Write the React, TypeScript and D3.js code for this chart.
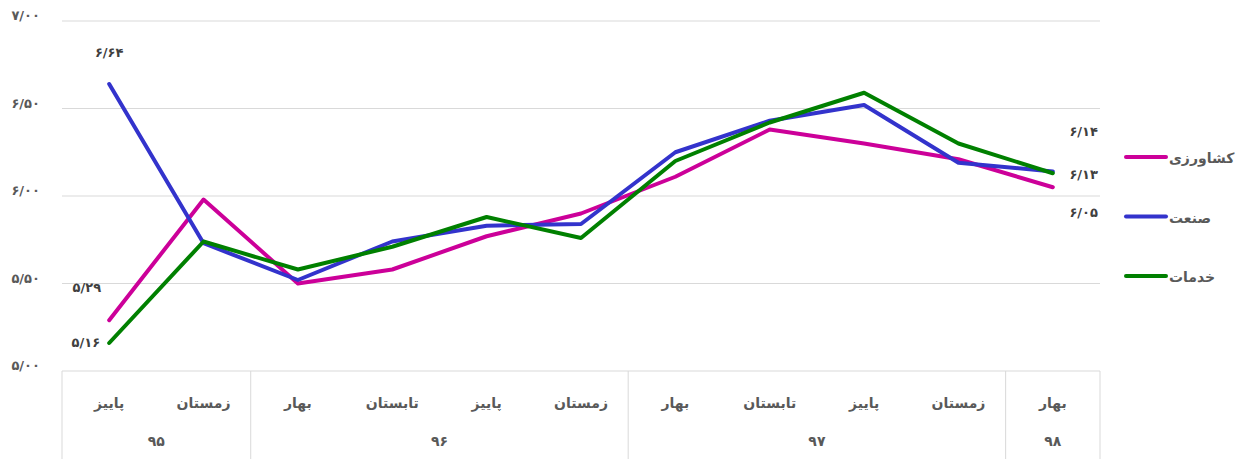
import React, { useEffect } from 'react';
import * as d3 from 'd3';

// seasons (quarters), left to right as in the chart
const seasons = ['پاییز', 'زمستان', 'بهار', 'تابستان', 'پاییز', 'زمستان', 'بهار', 'تابستان', 'پاییز', 'زمستان', 'بهار'];
const years = [
  { label: '۹۵', from: 0, to: 2 },
  { label: '۹۶', from: 2, to: 6 },
  { label: '۹۷', from: 6, to: 10 },
  { label: '۹۸', from: 10, to: 11 },
];

const agriculture = [5.29, 5.98, 5.5, 5.58, 5.77, 5.9, 6.11, 6.38, 6.3, 6.21, 6.05];
const industry = [6.64, 5.73, 5.52, 5.74, 5.83, 5.84, 6.25, 6.43, 6.52, 6.19, 6.14];
const services = [5.16, 5.74, 5.58, 5.71, 5.88, 5.76, 6.2, 6.42, 6.59, 6.3, 6.13];

const yTicks = [5, 5.5, 6, 6.5, 7];

const series = [
  { name: 'کشاورزی', values: agriculture, color: '#cc0099' },
  { name: 'صنعت', values: industry, color: '#3333cc' },
  { name: 'خدمات', values: services, color: '#008000' },
];

const faDigits = '۰۱۲۳۴۵۶۷۸۹';
const fa = (v: number) =>
  v.toFixed(2).replace('.', '/').replace(/[0-9]/g, (d) => faDigits[+d]);

const W = 1237;
const H = 459;
const FONT = '"DejaVu Sans", sans-serif';
const GREY = '#595959';

function App() {
  useEffect(() => {
    document.body.style.margin = '0';
  }, []);

  const x0 = 62;
  const x1 = 1100;
  const x = d3.scaleBand<number>().domain(d3.range(seasons.length)).range([x0, x1]);
  const y = d3.scaleLinear().domain([5, 7]).range([371, 21]);
  const cx = (i: number) => (x(i) as number) + x.bandwidth() / 2;

  const line = d3
    .line<number>()
    .x((_, i) => cx(i))
    .y((d) => y(d));

  const last = seasons.length - 1;

  return (
    <svg width={W} height={H} style={{ display: 'block' }} fontFamily={FONT}>
      {yTicks.map((t) => (
        <g key={t}>
          {t > 5 && <line x1={x0} x2={x1} y1={y(t)} y2={y(t)} stroke="#d9d9d9" strokeWidth={1} />}
          <text x={40} y={y(t) - 1} textAnchor="end" fontSize={13} fontWeight="bold" fill={GREY}>
            {fa(t)}
          </text>
        </g>
      ))}

      {/* category axis box */}
      <line x1={x0} x2={x1} y1={y(5)} y2={y(5)} stroke="#d9d9d9" strokeWidth={1} />
      {[0, 2, 6, 10, 11].map((b) => {
        const bx = b === 11 ? x1 : (x(b) as number);
        return <line key={b} x1={bx} x2={bx} y1={y(5)} y2={H} stroke="#d9d9d9" strokeWidth={1} />;
      })}
      {seasons.map((s, i) => (
        <text key={i} x={cx(i)} y={408} textAnchor="middle" fontSize={14} fontWeight="bold" fill={GREY}>
          {s}
        </text>
      ))}
      {years.map((yr) => {
        const a = x(yr.from) as number;
        const b = yr.to === seasons.length ? x1 : (x(yr.to) as number);
        return (
          <text key={yr.label} x={(a + b) / 2} y={446} textAnchor="middle" fontSize={14} fontWeight="bold" fill={GREY}>
            {yr.label}
          </text>
        );
      })}

      {series.map((s) => (
        <path key={s.name} d={line(s.values) || ''} fill="none" stroke={s.color} strokeWidth={4} strokeLinejoin="round" strokeLinecap="round" />
      ))}

      {/* data labels at the ends */}
      <g fontSize={13} fontWeight="bold" fill="#404040">
        <text x={cx(0)} y={y(industry[0]) - 27} textAnchor="middle">{fa(industry[0])}</text>
        <text x={cx(0) - 8} y={y(agriculture[0]) - 28} textAnchor="end">{fa(agriculture[0])}</text>
        <text x={cx(0) - 9} y={y(services[0]) + 4} textAnchor="end">{fa(services[0])}</text>
        <text x={1098} y={y(industry[last]) - 36} textAnchor="end">{fa(industry[last])}</text>
        <text x={1098} y={y(services[last]) + 6} textAnchor="end">{fa(services[last])}</text>
        <text x={1098} y={y(agriculture[last]) + 30} textAnchor="end">{fa(agriculture[last])}</text>
      </g>

      {/* legend */}
      {series.map((s, i) => {
        const ly = 157 + i * 59.5;
        return (
          <g key={s.name}>
            <line x1={1126} x2={1166} y1={ly} y2={ly} stroke={s.color} strokeWidth={4} strokeLinecap="round" />
            <text x={1169} y={ly + 6} fontSize={14} fontWeight="bold" fill={GREY}>
              {s.name}
            </text>
          </g>
        );
      })}
    </svg>
  );
}

export default App;
